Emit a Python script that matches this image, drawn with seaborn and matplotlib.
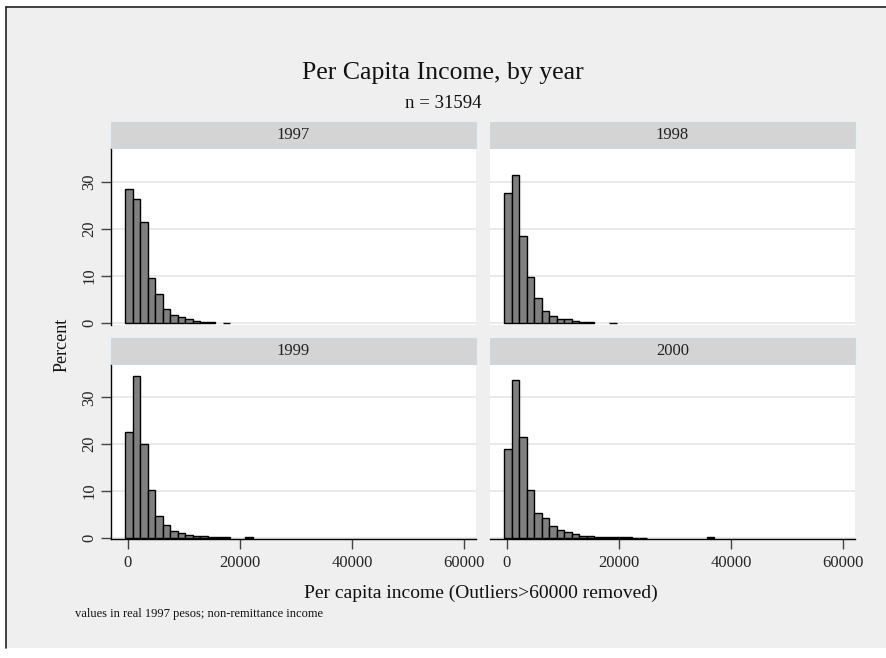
import numpy as np
import pandas as pd
import matplotlib
matplotlib.use("Agg")
import matplotlib.pyplot as plt
from matplotlib.patches import Rectangle
from matplotlib.lines import Line2D
import seaborn as sns

# Histogram bar heights (percent of households); 45 equal bins over the income range
years = ["1997", "1998", "1999", "2000"]
bin_start = -400
bin_width = 1338
n_bins = 45
pct_1997 = [28.4, 26.3, 21.5, 9.5, 6.1, 3.0, 1.7, 1.35, 0.8, 0.55, 0.3, 0.2, 0.0, 0.15]
pct_1998 = [27.5, 31.4, 18.5, 9.8, 5.3, 2.5, 1.6, 0.8, 0.9, 0.5, 0.35, 0.2, 0.0, 0.0, 0.15]
pct_1999 = [22.6, 34.5, 20.0, 10.3, 4.6, 2.8, 1.6, 1.0, 0.7, 0.5, 0.35, 0.25, 0.2, 0.15,
            0.0, 0.0, 0.15]
pct_2000 = [18.9, 33.6, 21.6, 10.3, 5.4, 4.2, 2.6, 1.7, 1.2, 0.8, 0.5, 0.4, 0.3, 0.25,
            0.2, 0.15, 0.15, 0.1, 0.1, 0.0, 0.0, 0.0, 0.0, 0.0, 0.0, 0.0, 0.0, 0.15]
y_ticks = [0, 10, 20, 30]
x_ticks = [0, 20000, 40000, 60000]
x_tick_labels = ["0", "20000", "40000", "60000"]

title = "Per Capita Income, by year"
subtitle = "n = 31594"
x_label = "Per capita income (Outliers>60000 removed)"
y_label = "Percent"
note = "values in real 1997 pesos; non-remittance income"

series = dict(zip(years, [pct_1997, pct_1998, pct_1999, pct_2000]))

rows = []
for yr, vals in series.items():
    for i, v in enumerate(vals):
        rows.append({"year": yr, "income": bin_start + i * bin_width + bin_width / 2, "pct": v})
df = pd.DataFrame(rows)

sns.set_style("white")
plt.rcParams["font.family"] = ["Liberation Serif", "DejaVu Serif"]

W, H = 886, 658
fig = plt.figure(figsize=(W / 100, H / 100), dpi=100)
fig.patch.set_facecolor("white")

def fx(px):
    return px / W

def fy(px):
    return 1 - px / H

# Graph region: grey background with a dark rule along its top and left edges
fig.add_artist(Rectangle((fx(6), fy(648)), fx(880), 641 / H, transform=fig.transFigure,
                         facecolor="#efefef", edgecolor="none", zorder=0))
fig.add_artist(Line2D([fx(6), fx(886)], [fy(7), fy(7)], transform=fig.transFigure,
                      color="#222222", linewidth=1.2, zorder=1))
fig.add_artist(Line2D([fx(6), fx(6)], [fy(7), fy(648)], transform=fig.transFigure,
                      color="#222222", linewidth=1.2, zorder=1))

strip_fc = "#d4d4d4"
strip_ec = "#c8dbe4"
grid_c = "#e6e6e6"

panel_left = {0: 111, 1: 490}
panel_w = 365
panel_top = {0: 148, 1: 364}
panel_h = {0: 176.5, 1: 175.3}
strip_h = 26

xlim = (-2980, 62140)
ylim = (-0.27, 37.1)

for k, yr in enumerate(years):
    r, c = divmod(k, 2)
    left = panel_left[c]
    top = panel_top[r]
    ax = fig.add_axes([fx(left), fy(top + panel_h[r]), fx(panel_w), panel_h[r] / H])
    ax.set_facecolor("white")
    sub = df[df["year"] == yr]
    sns.histplot(data=sub, x="income", weights="pct", bins=n_bins,
                 binrange=(bin_start, bin_start + n_bins * bin_width), ax=ax,
                 color="#808080", edgecolor="black", linewidth=1.0, alpha=1.0,
                 stat="count", zorder=3)
    # empty bins carry no outline
    for p in ax.patches:
        if p.get_height() <= 0:
            p.set_visible(False)
    ax.set_xlim(*xlim)
    ax.set_ylim(*ylim)
    ax.set_yticks(y_ticks)
    ax.yaxis.grid(True, color=grid_c, linewidth=1.2, zorder=0)
    ax.set_axisbelow(True)
    ax.set_xlabel("")
    ax.set_ylabel("")
    for s in ax.spines.values():
        s.set_visible(False)
    if c == 0:
        ax.spines["left"].set_visible(True)
        ax.spines["left"].set_color("black")
        ax.spines["left"].set_linewidth(1.0)
        ax.tick_params(axis="y", which="both", left=True, length=7, width=1.0,
                       color="#444444", labelsize=12, pad=3)
        for lbl in ax.get_yticklabels():
            lbl.set_rotation(90)
            lbl.set_va("center")
    else:
        ax.tick_params(axis="y", left=False, labelleft=False)
    ax.set_xticks(x_ticks)
    if r == 1:
        ax.spines["bottom"].set_visible(True)
        ax.spines["bottom"].set_color("black")
        ax.spines["bottom"].set_linewidth(1.0)
        ax.set_xticklabels(x_tick_labels)
        ax.tick_params(axis="x", bottom=True, length=7, width=1.0, color="#444444",
                       labelsize=12, pad=4)
    else:
        ax.tick_params(axis="x", bottom=False, labelbottom=False)

    # Facet strip with the year label
    fig.add_artist(Rectangle((fx(left), fy(top)), fx(panel_w), strip_h / H,
                             transform=fig.transFigure, facecolor=strip_fc,
                             edgecolor=strip_ec, linewidth=0.8, zorder=1))
    fig.text(fx(left + panel_w / 2), fy(top - strip_h / 2), yr, ha="center", va="center",
             fontsize=12, color="#222222")

fig.text(fx(443), fy(73), title, ha="center", va="center", fontsize=18.5, color="#111111")
fig.text(fx(443), fy(104), subtitle, ha="center", va="center", fontsize=13.5, color="#111111")
fig.text(fx(62), fy(345), y_label, ha="center", va="center", rotation=90, fontsize=13,
         color="#111111")
fig.text(fx(481), fy(593), x_label, ha="center", va="center", fontsize=14, color="#111111")
fig.text(fx(75), fy(614), note, ha="left", va="center", fontsize=9, color="#111111")

fig.savefig("out.png", dpi=100, facecolor=fig.get_facecolor())
